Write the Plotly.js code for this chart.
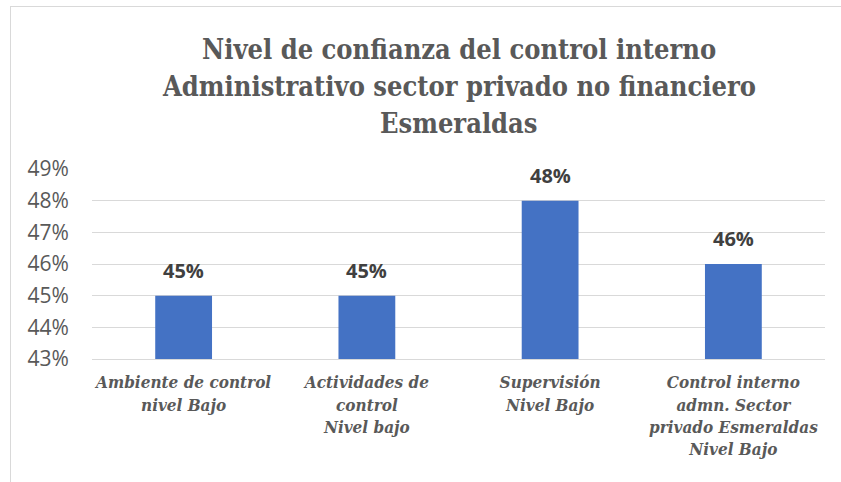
<!DOCTYPE html>
<html>
<head>
<meta charset="utf-8">
<script src="https://cdn.plot.ly/plotly-3.0.1.min.js"></script>
<style>
  html, body { margin: 0; padding: 0; background: #ffffff; }
  #frame { position: absolute; left: 10px; top: 6px; width: 900px; height: 600px;
           border-left: 1px solid #D9D9D9; border-top: 1px solid #D9D9D9; }
  #chart { position: absolute; left: 0; top: 0; width: 841px; height: 482px; }
</style>
</head>
<body>
<div id="frame"></div>
<div id="chart"></div>
<script>
const categories = [
  "Ambiente de control<br>nivel Bajo",
  "Actividades de<br>control<br>Nivel bajo",
  "Supervisión<br>Nivel Bajo",
  "Control interno<br>admn. Sector<br>privado Esmeraldas<br>Nivel Bajo"
];
const values = [0.45, 0.45, 0.48, 0.46];
const yTicks = [0.43, 0.44, 0.45, 0.46, 0.47, 0.48, 0.49];
const yTickLabels = ["43%", "44%", "45%", "46%", "47%", "48%", "49%"];
const titleLines = [
  "Nivel de confianza del control interno",
  "Administrativo sector privado no financiero",
  "Esmeraldas"
];
const titleLineY = [1.63, 1.435, 1.24];

const SERIF = "'DejaVu Serif Condensed', 'DejaVu Serif', serif";
const SANS = "'Open Sans', 'Liberation Sans', sans-serif";

const trace = {
  type: "bar",
  x: categories,
  y: values,
  width: 0.31,
  marker: { color: "#4472C4" },
  hoverinfo: "none"
};

const labelAnnotations = categories.map((c, i) => ({
  x: c, y: values[i], xref: "x", yref: "y",
  text: "<b>" + Math.round(values[i] * 100) + "%</b>",
  showarrow: false, yanchor: "bottom", yshift: 10,
  font: { family: SANS, size: 20, color: "#404040" }
}));

const titleAnnotations = titleLines.map((t, i) => ({
  x: 0.5, y: titleLineY[i], xref: "paper", yref: "paper",
  xanchor: "center", yanchor: "middle", showarrow: false,
  text: t,
  font: { family: SERIF, size: 27, color: "#595959", weight: "bold" }
}));

const layout = {
  width: 841, height: 482,
  paper_bgcolor: "rgba(0,0,0,0)",
  plot_bgcolor: "rgba(0,0,0,0)",
  margin: { l: 92, r: 16, t: 169, b: 123 },
  showlegend: false,
  xaxis: {
    type: "category",
    showgrid: false,
    showline: true, linecolor: "#D9D9D9", linewidth: 1,
    ticks: "outside", ticklen: 8, tickcolor: "rgba(0,0,0,0)",
    tickfont: { family: SERIF, size: 17, color: "#595959", style: "italic", weight: "bold" }
  },
  yaxis: {
    range: [0.43, 0.49],
    tickvals: yTicks, ticktext: yTickLabels,
    showgrid: true, gridcolor: "#D9D9D9", gridwidth: 1,
    zeroline: false, showline: false,
    ticks: "outside", ticklen: 18, tickcolor: "rgba(0,0,0,0)",
    tickfont: { family: SANS, size: 21, color: "#595959" }
  },
  annotations: titleAnnotations.concat(labelAnnotations)
};

Plotly.newPlot("chart", [trace], layout, { displayModeBar: false, staticPlot: true });
</script>
</body>
</html>
